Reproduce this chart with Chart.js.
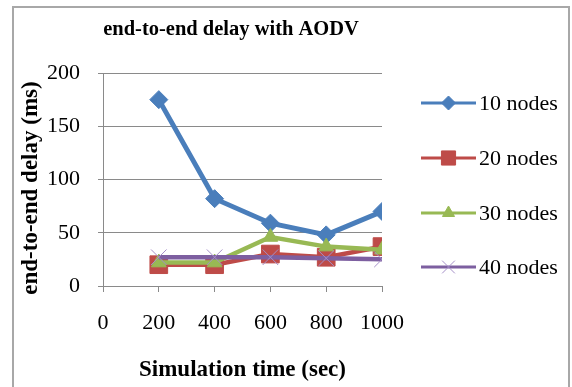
<!DOCTYPE html>
<html>
<head>
<meta charset="utf-8">
<script src="https://cdn.jsdelivr.net/npm/chart.js@4.4.1/dist/chart.umd.min.js"></script>
<style>
  html, body { margin: 0; padding: 0; background: #ffffff; }
  #wrap { position: relative; width: 572px; height: 387px; overflow: hidden; }
  #frame {
    position: absolute; left: 12px; top: 6px; width: 554px; height: 400px;
    border: 2px solid #a8a8a8; pointer-events: none;
  }
  canvas { position: absolute; left: 0; top: 0; }
</style>
</head>
<body>
<div id="wrap">
  <canvas id="chart" width="572" height="387"></canvas>
  <div id="frame"></div>
</div>
<script>
// Simulation times (sec) and end-to-end delay (ms) for each network size
const simTimes = [200, 400, 600, 800, 1000];
const delay10 = [175, 82, 59, 48, 70];
const delay20 = [20, 20, 30, 27, 37];
const delay30 = [22, 22, 46, 37, 34];
const delay40 = [27, 27, 27, 26, 25];
const seriesNames = ['10 nodes', '20 nodes', '30 nodes', '40 nodes'];
const yTicks = [0, 50, 100, 150, 200];
const xTicks = [0, 200, 400, 600, 800, 1000];

const SERIF = '"Liberation Serif", "Times New Roman", serif';
const GRID = '#8a8a8a';

function pts(values) {
  return values.map((v, i) => ({ x: simTimes[i], y: v }));
}

const styles = [
  { color: '#4a7ebb', pointStyle: 'rectRot', radius: 9, lineWidth: 5, legendRadius: 7 },
  { color: '#be4b48', pointStyle: 'rect', radius: 12.5, lineWidth: 4.5, legendRadius: 10 },
  { color: '#98b954', pointStyle: 'triangle', radius: 8.5, lineWidth: 4.5, legendRadius: 7 },
  { color: '#7d5fa0', pointStyle: 'crossRot', radius: 11, lineWidth: 4.5, legendRadius: 9, markColor: '#a58fc8' }
];

const seriesValues = [delay10, delay20, delay30, delay40];

const datasets = seriesValues.map((vals, i) => {
  const s = styles[i];
  return {
    label: seriesNames[i],
    data: pts(vals),
    borderColor: s.color,
    backgroundColor: s.color,
    borderWidth: s.lineWidth,
    pointStyle: s.pointStyle,
    pointRadius: s.radius,
    pointHoverRadius: s.radius,
    pointBackgroundColor: s.color,
    pointBorderColor: s.markColor || s.color,
    pointBorderWidth: 1,
    tension: 0,
    order: seriesValues.length - i
  };
});

// Chart title, vertical axis title, outer legend
const decorations = {
  id: 'decorations',
  afterDraw(chart) {
    const ctx = chart.ctx;
    ctx.save();
    ctx.fillStyle = '#000000';
    ctx.textAlign = 'center';
    ctx.textBaseline = 'alphabetic';
    ctx.font = 'bold 20.5px ' + SERIF;
    ctx.fillText('end-to-end delay with AODV', 231, 35);

    ctx.save();
    ctx.translate(31, 188);
    ctx.rotate(-Math.PI / 2);
    ctx.textBaseline = 'middle';
    ctx.font = 'bold 23px ' + SERIF;
    ctx.fillText('end-to-end delay (ms)', 0, 0);
    ctx.restore();

    const rowY = [103, 158, 213, 267];
    chart.data.datasets.forEach((ds, i) => {
      const s = styles[i];
      const y = rowY[i];
      ctx.strokeStyle = s.color;
      ctx.lineWidth = 3;
      ctx.beginPath();
      ctx.moveTo(421, y);
      ctx.lineTo(476, y);
      ctx.stroke();
      ctx.fillStyle = s.color;
      ctx.strokeStyle = s.markColor || s.color;
      ctx.lineWidth = 1;
      Chart.helpers.drawPoint(ctx, { pointStyle: s.pointStyle, radius: s.legendRadius, rotation: 0, borderWidth: 1 }, 448.5, y);
      ctx.fillStyle = '#000000';
      ctx.textAlign = 'left';
      ctx.textBaseline = 'middle';
      ctx.font = '22px ' + SERIF;
      ctx.fillText(ds.label, 479, y + 1);
    });
    ctx.restore();
  }
};

new Chart(document.getElementById('chart'), {
  type: 'line',
  data: { datasets },
  plugins: [decorations],
  options: {
    responsive: false,
    animation: false,
    devicePixelRatio: 1,
    layout: { padding: { left: 0, top: 73, right: 190, bottom: 0 } },
    plugins: {
      legend: { display: false },
      title: { display: false },
      tooltip: { enabled: false }
    },
    scales: {
      x: {
        type: 'linear',
        min: 0,
        max: 1000,
        afterBuildTicks(scale) { scale.ticks = xTicks.map(v => ({ value: v })); },
        afterFit(scale) { scale.height = 101; },
        grid: { display: true, drawOnChartArea: false, drawTicks: true, tickLength: 6, color: GRID, lineWidth: 1 },
        border: { display: true, color: GRID, width: 1 },
        ticks: {
          color: '#000000', font: { family: SERIF, size: 22 }, padding: 18, maxRotation: 0, autoSkip: false,
          callback: v => String(v)
        },
        title: {
          display: true,
          text: 'Simulation time (sec)',
          color: '#000000',
          font: { family: SERIF, size: 23, weight: 'bold' },
          padding: { top: 0, bottom: 3 }
        }
      },
      y: {
        min: 0,
        max: 200,
        afterBuildTicks(scale) { scale.ticks = yTicks.map(v => ({ value: v })); },
        afterFit(scale) { scale.width = 103; },
        grid: { display: true, drawOnChartArea: true, drawTicks: true, tickLength: 5, color: GRID, lineWidth: 1 },
        border: { display: true, color: GRID, width: 1 },
        ticks: { color: '#000000', font: { family: SERIF, size: 22 }, padding: 18, callback: v => String(v) }
      }
    }
  }
});
</script>
</body>
</html>
